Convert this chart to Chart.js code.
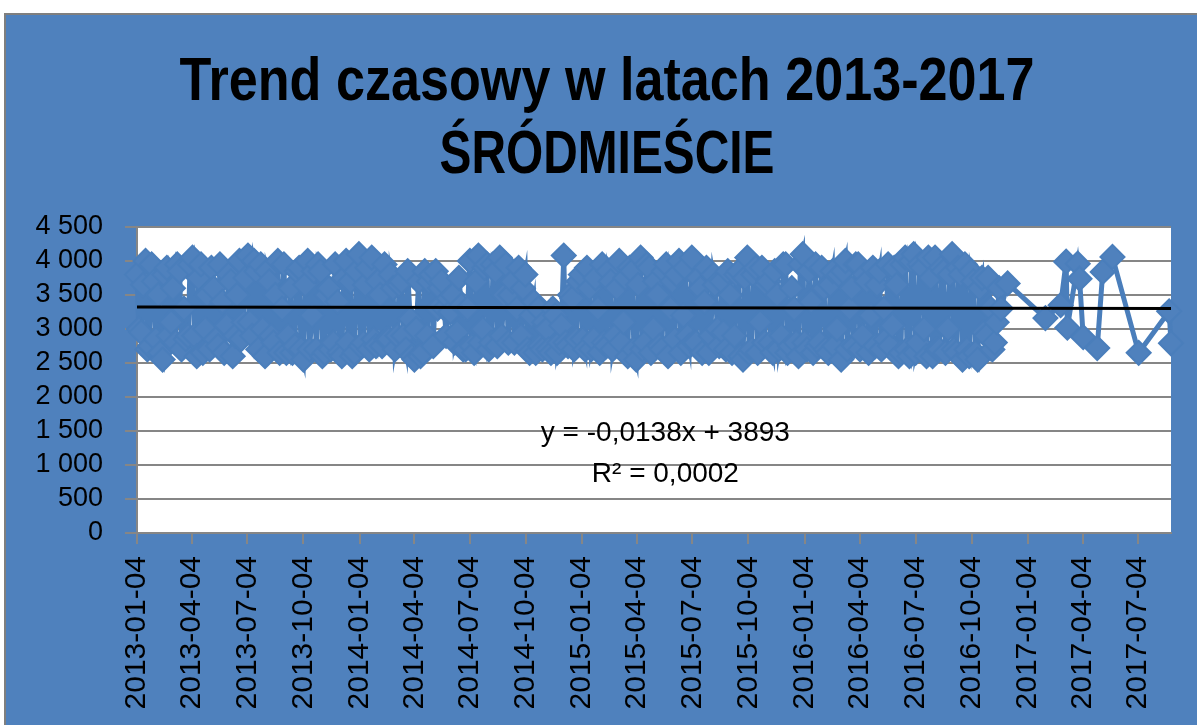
<!DOCTYPE html>
<html>
<head>
<meta charset="utf-8">
<title>Trend czasowy w latach 2013-2017 ŚRÓDMIEŚCIE</title>
<script src="https://cdn.jsdelivr.net/npm/chart.js@4.4.1/dist/chart.umd.min.js"></script>
<style>
  html, body { margin: 0; padding: 0; background: #fff; }
  canvas { display: block; }
</style>
</head>
<body>
<canvas id="trendChart" width="1197" height="725"></canvas>
<script>
const titleLines = ["Trend czasowy w latach 2013-2017", "ŚRÓDMIEŚCIE"];

// two readings a week, first one on 2013-01-04 (Fridays) and the other on Mondays
const firstWeek = "2013-01-04";
const fridayValues = [
  3800, 2950, 4000, 2750, 3700, 3500, 2550, 3900, 3100, 2800, 3850, 3300, 2900,
  4050, 2600, 3950, 3000, 2700, 3600, 2750, 3400, 3050, 3700, 2900, 4000, 3100,
  4080, 2900, 3850, 3950, 2600, 3700, 2800, 4000, 3300, 2650, 3600, 2750, 3900,
  2550, 4000, 3200, 2700, 3850, 2650, 3600, 2800, 3400, 2600, 4000, 3700, 2650,
  4100, 2800, 3900, 4050, 2750, 3500, 3950, 2850, 3600, 2900, 3700, 2700, 3150,
  2550, 3700, 2650, 2900, 3800, 3850, 3600, 3300, 3450, 3500, 2950, 3350, 2700,
  4000, 2650, 4080, 3000, 3950, 2800, 3850, 4050, 3500, 2800, 3700, 3300, 2900,
  3800, 2650, 3400, 3300, 2700, 3000, 2650, 3200, 2800, 4080, 2750, 3450, 2850,
  3800, 2700, 3600, 2850, 3300, 3950, 2750, 3700, 2900, 4000, 3100, 2600, 3850,
  2550, 4050, 2800, 3900, 3000, 3500, 2700, 3950, 3300, 2850, 4000, 3200, 2900,
  4050, 2800, 3600, 3400, 2650, 3800, 3000, 3700, 2700, 3500, 2900, 3850, 2550,
  4050, 2700, 3900, 3100, 2800, 3700, 2650, 3500, 2900, 3950, 2750, 3300, 2600,
  4100, 2700, 3400, 3950, 2800, 3600, 2650, 3850, 3000, 2550, 4000, 3300, 2750,
  3950, 2900, 3700, 3200, 2750, 3850, 3300, 3950, 3050, 3650, 2650, 4050, 2600,
  4100, 2800, 3900, 2600, 3750, 4050, 2700, 3850, 3000, 4100, 2650, 3800, 3950,
  2600, 3700, 2550, 3750, 2900, 3300, 2800, 3600
];
const mondayValues = [
  3000, 3650, 2700, 3950, 2850, 2650, 3800, 2900, 3600, 3950, 2700, 2850, 3950,
  2900, 3750, 2650, 3500, 3900, 2850, 3950, 2650, 3800, 2600, 3500, 2850, 3750,
  3100, 4000, 2700, 3000, 3850, 2900, 3500, 2650, 3950, 2900, 2650, 3850, 2700,
  3650, 2700, 3850, 3950, 2600, 3500, 2700, 3950, 2650, 3750, 2800, 2600, 3850,
  2750, 3650, 2700, 2850, 3700, 2750, 2850, 3800, 2700, 3650, 2900, 3850, 2600,
  3000, 2600, 3850, 3700, 2750, 3300, 3700, 2900, 3250, 2800, 3750, 2700, 3300,
  2750, 3700, 2800, 3900, 2700, 3950, 2750, 2900, 3950, 3500, 2800, 3900, 3600,
  2700, 3200, 2650, 2750, 3100, 2700, 3300, 2650, 3050, 2800, 3500, 2700, 3700,
  2850, 3900, 2700, 3750, 2650, 2800, 3850, 2700, 3600, 2800, 3750, 3900, 2700,
  3650, 2700, 3950, 2650, 3700, 2750, 3850, 2600, 3700, 3800, 2650, 3900, 2750,
  2800, 3750, 2650, 3900, 2900, 3650, 2750, 2950, 3850, 2650, 3800, 2600, 3750,
  2650, 3800, 2650, 3900, 3650, 2800, 3850, 2700, 3950, 2650, 3600, 2800, 3950,
  2800, 3850, 2650, 2750, 3900, 2700, 3650, 2750, 3800, 3850, 2700, 3600, 3950,
  2700, 3800, 2650, 3900, 3650, 2700, 2850, 2750, 3900, 2600, 3950, 2700, 4000,
  2650, 3950, 3000, 4050, 2600, 2700, 3900, 2650, 3800, 2700, 3900, 2550, 2700,
  3850, 2650, 3600, 2950, 3750, 2700, 3100, 3300
];

// sparse readings at the end of the period
const lateDates = [
  "2016-12-02", "2017-02-02", "2017-02-27", "2017-03-08", "2017-03-10",
  "2017-03-27", "2017-03-30", "2017-04-05", "2017-04-28", "2017-05-07",
  "2017-05-23", "2017-07-05", "2017-08-24", "2017-08-27"
];
const lateValues = [
  3670, 3160, 3350, 3990, 3020,
  3960, 3740, 2880, 2720, 3840,
  4060, 2650, 3260, 2790
];

const tickLabels = [
  "2013-01-04", "2013-04-04", "2013-07-04", "2013-10-04",
  "2014-01-04", "2014-04-04", "2014-07-04", "2014-10-04",
  "2015-01-04", "2015-04-04", "2015-07-04", "2015-10-04",
  "2016-01-04", "2016-04-04", "2016-07-04", "2016-10-04",
  "2017-01-04", "2017-04-04", "2017-07-04"
];
const lastDate = "2017-08-27";

// linear trend line as drawn by the spreadsheet
const trendDates = ["2013-01-04", "2017-08-27"];
const trendValues = [3325, 3300];
const trendText = ["y = -0,0138x + 3893", "R² = 0,0002"];

const dayOf = s => Math.round((Date.parse(s) - Date.parse(firstWeek)) / 86400000);

const seriesPoints = fridayValues
  .flatMap((v, i) => [{ x: i * 7, y: v }, { x: i * 7 + 3, y: mondayValues[i] }])
  .concat(lateValues.map((v, i) => ({ x: dayOf(lateDates[i]), y: v })));
const trendPoints = trendValues.map((v, i) => ({ x: dayOf(trendDates[i]), y: v }));

const fmtThousands = v => v >= 1000
  ? Math.floor(v / 1000) + " " + String(v % 1000).padStart(3, "0")
  : String(v);

const frame = {
  id: "frame",
  beforeDraw(chart) {
    const { ctx, width, height, chartArea: a } = chart;
    ctx.save();
    ctx.fillStyle = "#fff";
    ctx.fillRect(0, 0, width, height);
    ctx.fillStyle = "#4F81BD";
    ctx.fillRect(5, 14, width - 5, height - 14);
    ctx.strokeStyle = "#7f7f7f";
    ctx.lineWidth = 2;
    ctx.beginPath();
    ctx.moveTo(5, height);
    ctx.lineTo(5, 14);
    ctx.lineTo(width, 14);
    ctx.stroke();
    ctx.fillStyle = "#fff";
    ctx.fillRect(a.left, a.top, a.right - a.left, a.bottom - a.top);
    ctx.restore();
  }
};

// title in a condensed bold face, like the spreadsheet's
const heading = {
  id: "heading",
  afterDraw(chart) {
    const { ctx } = chart;
    const lineWidths = [855, 335];
    ctx.save();
    ctx.font = 'bold 61px "Liberation Sans", Arial, sans-serif';
    ctx.fillStyle = "#000";
    ctx.textAlign = "center";
    ctx.textBaseline = "alphabetic";
    titleLines.forEach((t, i) => {
      const sx = lineWidths[i] / ctx.measureText(t).width;
      ctx.save();
      ctx.translate(607, 100 + i * 73);
      ctx.scale(sx, 1);
      ctx.fillText(t, 0, 0);
      ctx.restore();
    });
    ctx.restore();
  }
};

const trendLabel = {
  id: "trendLabel",
  afterDatasetsDraw(chart) {
    const { ctx, chartArea: a } = chart;
    const cx = a.left + (a.right - a.left) * 0.511;
    ctx.save();
    ctx.font = '28px "Liberation Sans", Arial, sans-serif';
    ctx.fillStyle = "#000";
    ctx.textAlign = "center";
    ctx.fillText(trendText[0], cx, a.top + 214);
    ctx.fillText(trendText[1], cx, a.top + 255);
    ctx.restore();
  }
};

Chart.defaults.font.family = '"Liberation Sans", Arial, sans-serif';
Chart.defaults.color = "#000";

const ctx = document.getElementById("trendChart").getContext("2d");

const trendChart = new Chart(ctx, {
  type: "line",
  data: {
    datasets: [
      {
        label: "Trend",
        data: trendPoints,
        borderColor: "#000",
        borderWidth: 3,
        pointRadius: 0,
        order: 0,
      },
      {
        label: "Śródmieście",
        data: seriesPoints,
        borderColor: "#4A7EBB",
        backgroundColor: "#4F81BD",
        borderWidth: 5,
        pointStyle: "rectRot",
        pointRadius: 12,
        pointBorderWidth: 2,
        pointBackgroundColor: "#4F81BD",
        pointBorderColor: "#4A7EBB",
        tension: 0,
        clip: false,
        order: 1,
      },
    ],
  },
  options: {
    responsive: false,
    animation: false,
    layout: { padding: { left: 16, right: 26, top: 227, bottom: 0 } },
    plugins: {
      legend: { display: false },
      tooltip: { enabled: false },
      title: { display: false },
    },
    scales: {
      x: {
        type: "linear",
        min: 0,
        max: dayOf(lastDate),
        afterBuildTicks: s => { s.ticks = tickLabels.map(t => ({ value: dayOf(t) })); },
        afterFit: s => { s.height = 192; },
        ticks: {
          callback: (v, i) => tickLabels[i],
          autoSkip: false,
          minRotation: 90,
          maxRotation: 90,
          padding: 12,
          font: { size: 30 },
        },
        grid: { drawOnChartArea: false, color: "#868686", lineWidth: 2, tickLength: 11 },
        border: { color: "#868686", width: 2 },
      },
      y: {
        min: 0,
        max: 4500,
        afterFit: s => { s.width = 121; },
        ticks: { stepSize: 500, autoSkip: false, callback: fmtThousands, padding: 22, font: { size: 27 } },
        grid: { color: "#868686", lineWidth: 2, tickLength: 12 },
        border: { color: "#868686", width: 2 },
      },
    },
  },
  plugins: [frame, heading, trendLabel],
});
</script>
</body>
</html>
